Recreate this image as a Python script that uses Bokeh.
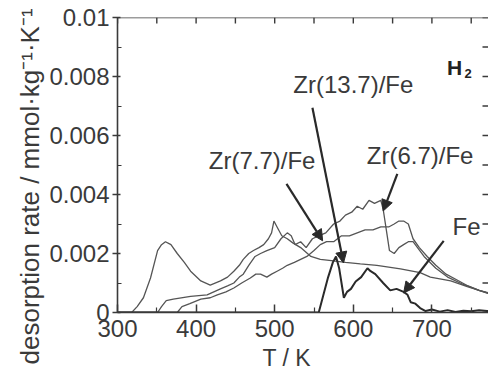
from bokeh.plotting import figure
from bokeh.models import Range1d, LinearAxis, FixedTicker, Label, Arrow, NormalHead, Span, Title
from bokeh.embed import file_html
from bokeh.resources import INLINE

# ---------------- data ----------------
# Zr(13.7)/Fe  (low-T peak at 360 K, spike at 500 K, then slow decay)
zr137_T = [300, 318, 325, 333, 342, 351, 356, 361, 368, 376, 385, 393, 406, 418, 431, 440, 448, 455,
           460, 467, 473, 480, 486, 492, 496, 499, 503, 509, 516, 523, 533, 546, 558, 575, 590, 609,
           630, 660, 685, 698, 724, 745, 766, 775]
zr137_v = [0, 0, 0.0002, 0.0005, 0.00117, 0.0021, 0.0023, 0.0024, 0.0023, 0.002, 0.0017, 0.0014,
           0.00107, 0.00093, 0.00107, 0.0012, 0.0014, 0.0016, 0.0018, 0.0020, 0.0021, 0.0022, 0.0023,
           0.0025, 0.0027, 0.0031, 0.0029, 0.0026, 0.0025, 0.00236, 0.0022, 0.0019, 0.0018, 0.00175,
           0.0017, 0.00165, 0.0016, 0.00148, 0.00135, 0.0012, 0.00107, 0.00088, 0.0007, 0.00062]

# Zr(6.7)/Fe  (highest curve, maximum near 620 K)
zr67_T = [300, 351, 356, 362, 371, 393, 414, 431, 440, 448, 455, 460, 467, 475, 482, 490, 500, 508,
          516, 521, 526, 533, 540, 548, 556, 565, 575, 583, 590, 598, 605, 612, 620, 627, 635, 638,
          642, 646, 652, 658, 664, 670, 676, 690, 705, 720, 740, 760, 775]
zr67_v = [0, 0, 0.0002, 0.0004, 0.00045, 0.00055, 0.0006, 0.0008, 0.0009, 0.001, 0.0012, 0.0013,
          0.0016, 0.0019, 0.002, 0.0021, 0.0022, 0.0025, 0.0027, 0.0026, 0.0023, 0.0024, 0.0022,
          0.0025, 0.0026, 0.0027, 0.003, 0.0031, 0.0033, 0.0034, 0.0036, 0.0035, 0.0038, 0.0037,
          0.0038, 0.0035, 0.0028, 0.0021, 0.002, 0.0022, 0.0023, 0.0024, 0.0024, 0.0019, 0.0015,
          0.0012, 0.00095, 0.00075, 0.00062]

# Zr(7.7)/Fe
zr77_T = [300, 376, 382, 392, 406, 418, 427, 438, 448, 458, 469, 476, 482, 490, 496, 503, 510, 516,
          525, 533, 541, 550, 558, 566, 575, 585, 595, 605, 615, 625, 635, 645, 652, 658, 664, 670,
          676, 684, 694, 705, 718, 732, 746, 760, 775]
zr77_v = [0, 0, 0.0002, 0.0003, 0.00045, 0.0005, 0.0006, 0.0007, 0.00083, 0.001, 0.00117, 0.0013,
          0.0013, 0.0012, 0.0013, 0.0014, 0.0015, 0.0016, 0.0017, 0.0018, 0.0019, 0.0021, 0.0023,
          0.0024, 0.0024, 0.0026, 0.0026, 0.0027, 0.0028, 0.0028, 0.0029, 0.0029, 0.003, 0.0031,
          0.0031, 0.003, 0.0025, 0.0022, 0.0019, 0.0016, 0.0013, 0.0011, 0.0009, 0.00075, 0.00065]

# Fe  (dark curve, starts late, vanishes near 690 K)
fe_T = [300, 556, 562, 568, 574, 578, 582, 588, 592, 597, 603, 610, 618, 622, 628, 638, 647, 655,
        664, 669, 673, 679, 685, 692, 700, 710, 720, 730, 740, 750, 760, 770, 775]
fe_v = [0, 0, 0.0006, 0.0012, 0.0017, 0.0019, 0.0015, 0.0005, 0.0007, 0.0008, 0.00105, 0.0012,
        0.0015, 0.0014, 0.0013, 0.001, 0.00075, 0.0008, 0.0007, 0.0006, 0.00035, 0.0003, 0.00015,
        0.00005, 0.0001, 0.00003, 0.00008, 0.00002, 0.00006, 0.00004, 0.00008, 0.00005, 0.00006]

x_ticks = [300, 400, 500, 600, 700]
x_minor = [350, 450, 550, 650, 750]
y_ticks = [0, 0.002, 0.004, 0.006, 0.008, 0.01]
y_minor = [0.001, 0.003, 0.005, 0.007, 0.009]
y_tick_labels = ["0", "0.002", "0.004", "0.006", "0.008", "0.01"]

# annotations: (text, x, y)
labels = [("Zr(13.7)/Fe", 600, 0.00773), ("Zr(7.7)/Fe", 484, 0.00514),
          ("Zr(6.7)/Fe", 685, 0.00531), ("Fe", 744, 0.0029)]
# arrows: (x_start, y_start, x_end, y_end)
arrows = [(548, 0.00694, 587.5, 0.00168), (515, 0.00436, 561, 0.00243),
          (656, 0.0047, 638, 0.00344), (715, 0.00243, 664, 0.00066)]

FONT = "Liberation Sans"
INK = "#3a3a3a"
LINE = "#555555"

W, H = 488, 374
BL, BR, BT, BB = 117, 0, 17, 62
X0, X1 = 300, 772
Y0, Y1 = 0, 0.01
fw, fh = W - BL - BR, H - BT - BB
kx = (X1 - X0) / fw      # data per pixel
ky = (Y1 - Y0) / fh

p = figure(width=W, height=H, x_range=Range1d(X0, X1), y_range=Range1d(Y0, Y1),
           output_backend="svg", toolbar_location=None,
           min_border_left=BL, min_border_right=BR, min_border_top=BT, min_border_bottom=BB,
           x_axis_location=None, y_axis_location=None)
p.outline_line_color = None
p.xgrid.visible = False
p.ygrid.visible = False
p.background_fill_color = "white"
p.border_fill_color = "white"


def style_axis(ax, tin, tout, minin, minout):
    ax.axis_line_color = INK
    ax.axis_line_width = 1.6
    ax.major_tick_line_color = INK
    ax.minor_tick_line_color = INK
    ax.major_tick_line_width = 1.5
    ax.minor_tick_line_width = 1.2
    ax.major_tick_in = tin
    ax.major_tick_out = tout
    ax.minor_tick_in = minin
    ax.minor_tick_out = minout
    ax.major_label_text_font = FONT
    ax.major_label_text_color = INK
    ax.major_label_text_font_size = "24px"


xb = LinearAxis(ticker=FixedTicker(ticks=x_ticks, minor_ticks=x_minor))
style_axis(xb, 8, 0, 5, 0)
xb.major_label_standoff = 7
p.add_layout(xb, "below")

yl = LinearAxis(ticker=FixedTicker(ticks=y_ticks, minor_ticks=y_minor))
style_axis(yl, 3, 5, 4, 0)
yl.major_label_standoff = 3
yl.major_label_overrides = {t: s for t, s in zip(y_ticks, y_tick_labels)}
p.add_layout(yl, "left")

# axis titles as offset titles (so that they can sit where the original has them)
p.add_layout(Title(text="T / K", align="left", offset=145, standoff=6, text_font=FONT,
                   text_font_size="23px", text_font_style="normal", text_color=INK), "below")
p.add_layout(Title(text="desorption rate / mmol·kg⁻¹·K⁻¹", align="left", offset=-52, standoff=4,
                   text_font=FONT, text_font_size="26px", text_font_style="normal",
                   text_color=INK), "left")

# top frame line with inward ticks, right inward ticks (no labels)
p.add_layout(Span(location=Y1, dimension="width", line_color=INK, line_width=1.6))
top_x = x_ticks + x_minor
p.segment(x0=top_x, y0=[Y1] * len(top_x), x1=top_x, y1=[Y1 - 6 * ky] * len(top_x),
          line_color=INK, line_width=1.4)
right_y = y_ticks + y_minor
p.segment(x0=[X1] * len(right_y), y0=right_y, x1=[X1 - 6 * kx] * len(right_y), y1=right_y,
          line_color=INK, line_width=1.4)

p.line(zr77_T, zr77_v, line_color=LINE, line_width=1.3)
p.line(zr67_T, zr67_v, line_color=LINE, line_width=1.3)
p.line(zr137_T, zr137_v, line_color=LINE, line_width=1.3)
p.line(fe_T, fe_v, line_color="#2a2a2a", line_width=2.0)

for (txt, x, y) in labels:
    p.add_layout(Label(x=x, y=y, text=txt, text_font=FONT, text_font_size="24px",
                       text_color=INK, text_align="center", text_baseline="middle"))

# H2 label: bold H with a subscript 2
p.add_layout(Label(x=728.7, y=0.0083, text="H", text_font=FONT, text_font_size="21px",
                   text_font_style="bold", text_color="#222", text_align="center",
                   text_baseline="middle"))
p.add_layout(Label(x=746, y=0.0081, text="2", text_font=FONT, text_font_size="13px",
                   text_font_style="bold", text_color="#222", text_align="center",
                   text_baseline="middle"))

for (xs, ys, xe, ye) in arrows:
    p.add_layout(Arrow(x_start=xs, y_start=ys, x_end=xe, y_end=ye, line_color="#2a2a2a",
                       line_width=2.2,
                       end=NormalHead(size=11, fill_color="#2a2a2a", line_color="#2a2a2a")))

open("out.html", "w").write(file_html(p, INLINE))
